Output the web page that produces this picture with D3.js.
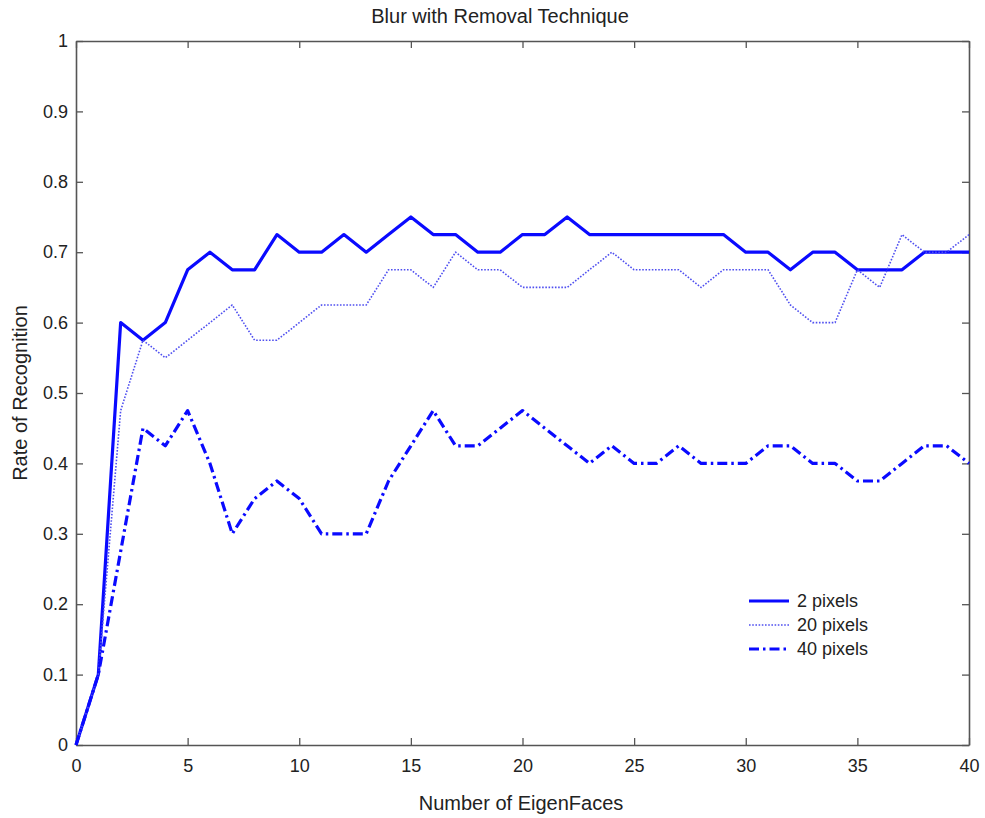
<!DOCTYPE html>
<html>
<head>
<meta charset="utf-8">
<script src="https://cdn.jsdelivr.net/npm/d3@7"></script>
<style>
  html, body { margin: 0; padding: 0; background: #fff; }
  svg { display: block; font-family: "Liberation Sans", Arial, sans-serif; }
</style>
</head>
<body>
<svg id="chart" width="985" height="818"></svg>
<script>
// ---- data ----
const eigenFaces = d3.range(0, 41);
const px2 = [0,0.1,0.6,0.575,0.6,0.675,0.7,0.675,0.675,0.725,0.7,0.7,0.725,0.7,0.725,0.75,0.725,0.725,0.7,0.7,0.725,0.725,0.75,0.725,0.725,0.725,0.725,0.725,0.725,0.725,0.7,0.7,0.675,0.7,0.7,0.675,0.675,0.675,0.7,0.7,0.7];
const px20 = [0,0.1,0.475,0.575,0.55,0.575,0.6,0.625,0.575,0.575,0.6,0.625,0.625,0.625,0.675,0.675,0.65,0.7,0.675,0.675,0.65,0.65,0.65,0.675,0.7,0.675,0.675,0.675,0.65,0.675,0.675,0.675,0.625,0.6,0.6,0.675,0.65,0.725,0.7,0.7,0.725];
const px40 = [0,0.1,0.275,0.45,0.425,0.475,0.4,0.3,0.35,0.375,0.35,0.3,0.3,0.3,0.375,0.425,0.475,0.425,0.425,0.45,0.475,0.45,0.425,0.4,0.425,0.4,0.4,0.425,0.4,0.4,0.4,0.425,0.425,0.4,0.4,0.375,0.375,0.4,0.425,0.425,0.4];
const seriesNames = ["2 pixels", "20 pixels", "40 pixels"];
const xTickValues = [0,5,10,15,20,25,30,35,40];
const xTickLabels = ["0","5","10","15","20","25","30","35","40"];
const yTickValues = [0,0.1,0.2,0.3,0.4,0.5,0.6,0.7,0.8,0.9,1];
const yTickLabels = ["0","0.1","0.2","0.3","0.4","0.5","0.6","0.7","0.8","0.9","1"];
const titleText = "Blur with Removal Technique";
const xLabelText = "Number of EigenFaces";
const yLabelText = "Rate of Recognition";

// ---- layout ----
const L = 76, R = 969, T = 41, B = 745;
const svg = d3.select("#chart");
const x = d3.scaleLinear().domain([0, 40]).range([L, R]);
const y = d3.scaleLinear().domain([0, 1]).range([B, T]);

const axisColor = "#555";
const textColor = "#222";

function styleAxis(g, fs) {
  g.selectAll(".domain").attr("stroke", axisColor).attr("stroke-width", 1.6);
  g.selectAll(".tick line").attr("stroke", axisColor).attr("stroke-width", 1.3);
  g.selectAll(".tick text").attr("fill", textColor).style("font-size", fs + "px");
}

// bottom axis
const gx = svg.append("g").attr("transform", `translate(0,${B})`)
  .call(d3.axisBottom(x).tickValues(xTickValues)
    .tickFormat((d, i) => xTickLabels[i]).tickSizeInner(-7).tickSizeOuter(0).tickPadding(14));
styleAxis(gx, 18);
// top axis
const gxt = svg.append("g").attr("transform", `translate(0,${T})`)
  .call(d3.axisTop(x).tickValues(xTickValues).tickFormat("").tickSizeInner(-7).tickSizeOuter(0));
styleAxis(gxt, 18);
// left axis
const gy = svg.append("g").attr("transform", `translate(${L},0)`)
  .call(d3.axisLeft(y).tickValues(yTickValues)
    .tickFormat((d, i) => yTickLabels[i]).tickSizeInner(-7).tickSizeOuter(0).tickPadding(8));
styleAxis(gy, 18);
// right axis
const gyr = svg.append("g").attr("transform", `translate(${R},0)`)
  .call(d3.axisRight(y).tickValues(yTickValues).tickFormat("").tickSizeInner(-7).tickSizeOuter(0));
styleAxis(gyr, 18);

// ---- lines ----
const line = d3.line().x((d, i) => x(eigenFaces[i])).y(d => y(d));
const styles = [
  { data: px2,  color: "#0a0aff", width: 3.2, dash: null },
  { data: px20, color: "#5050f0", width: 1.6, dash: "1.6,1.6" },
  { data: px40, color: "#0a0aff", width: 3.2, dash: "10,4,2.5,4" }
];
styles.forEach(s => {
  svg.append("path").datum(s.data)
    .attr("fill", "none")
    .attr("stroke", s.color)
    .attr("stroke-width", s.width)
    .attr("stroke-linejoin", "round")
    .attr("stroke-dasharray", s.dash)
    .attr("d", line);
});

// ---- legend ----
const legX1 = 749, legX2 = 789, legTextX = 797, legY0 = 601, legDy = 24;
styles.forEach((s, i) => {
  const yy = legY0 + i * legDy;
  svg.append("line")
    .attr("x1", legX1).attr("x2", legX2).attr("y1", yy).attr("y2", yy)
    .attr("stroke", s.color).attr("stroke-width", s.width)
    .attr("stroke-dasharray", s.dash);
  svg.append("text")
    .attr("x", legTextX).attr("y", yy).attr("dy", "0.35em")
    .attr("fill", textColor).style("font-size", "18px")
    .text(seriesNames[i]);
});

// ---- titles ----
svg.append("text").attr("x", 500).attr("y", 23).attr("text-anchor", "middle")
  .attr("fill", textColor).style("font-size", "20px").text(titleText);
svg.append("text").attr("x", 521).attr("y", 810).attr("text-anchor", "middle")
  .attr("fill", textColor).style("font-size", "20px").text(xLabelText);
svg.append("text").attr("transform", `translate(27,393) rotate(-90)`)
  .attr("text-anchor", "middle")
  .attr("fill", textColor).style("font-size", "20px").text(yLabelText);
</script>
</body>
</html>
